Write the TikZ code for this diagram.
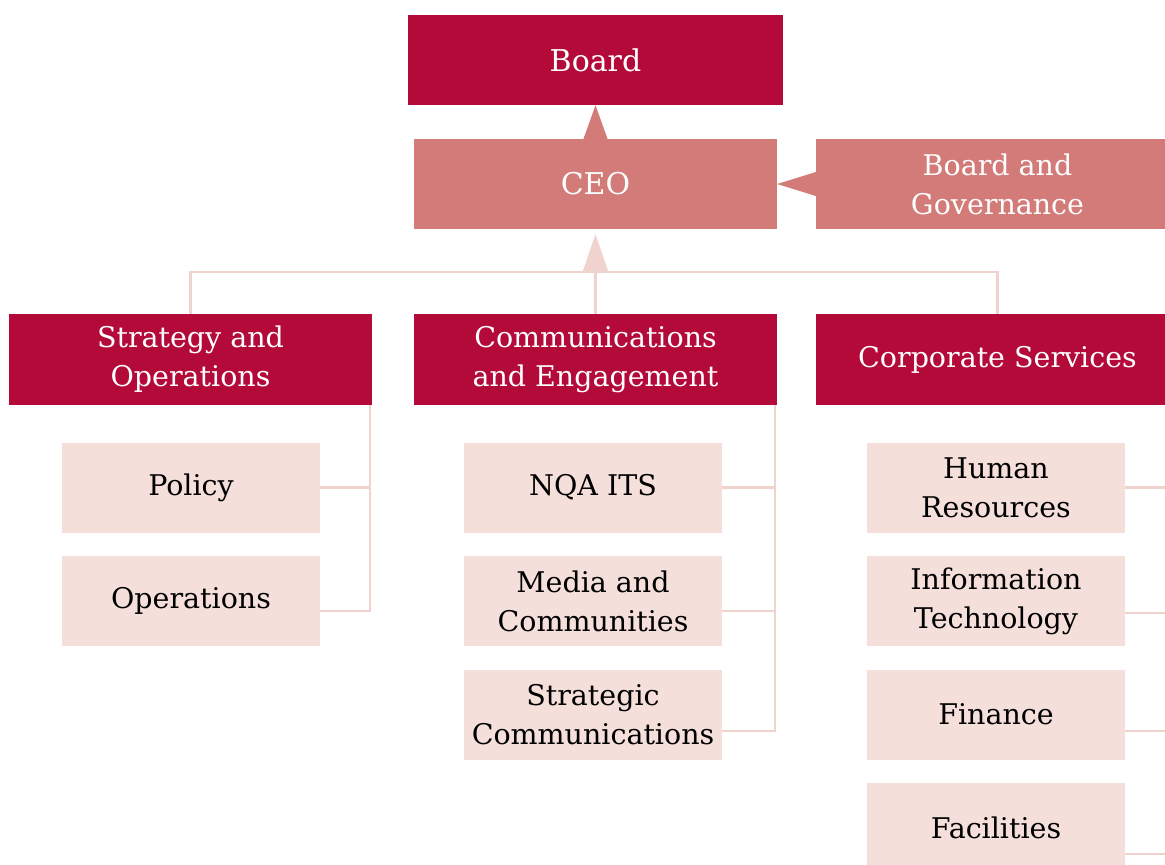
\documentclass[tikz,border=0pt]{standalone}
\usepackage{fontspec}
\setmainfont{DejaVu Serif}
\usetikzlibrary{calc}
\definecolor{crimson}{RGB}{179,10,58}
\definecolor{rose}{RGB}{210,123,120}
\definecolor{pale}{RGB}{245,223,219}
\definecolor{linkc}{RGB}{240,211,207}
\tikzset{
    head/.style={fill=crimson, text=white, minimum width=363pt, minimum height=91pt, inner sep=0pt, align=center},
    chief/.style={fill=rose, text=white, minimum width=363pt, minimum height=90pt, inner sep=0pt, align=center},
    unit/.style={fill=pale, text=black, minimum width=258pt, minimum height=90pt, inner sep=0pt, align=center},
    link/.style={draw=linkc, line width=2.5pt}
}

\begin{document}
\begin{tikzpicture}
  [
    x                       = 1pt,
    y                       = -1pt,
    every node/.style       = {font=\fontsize{28.5}{39}\selectfont},
  ]
  \useasboundingbox (0,0) rectangle (1165,865);
  \clip (0,0) rectangle (1165,865);

  \node [head, minimum width=375pt, minimum height=90pt, font=\fontsize{30}{39}\selectfont] (board) at (595.5,60) {Board};
  \node [chief, font=\fontsize{30}{39}\selectfont] (ceo) at (595.5,184) {CEO};
  \node [chief] (gov) at (997.5,184) {Board and\\Governance};

  \node [head] (strat) at (190.5,359.5) {Strategy and\\Operations};
  \node [head] (comm) at (595.5,359.5) {Communications\\and Engagement};
  \node [head] (corp) at (997.5,359.5) {Corporate Services};

  \node [unit] (policy) at (191,487.5) {Policy};
  \node [unit] (ops) at (191,601) {Operations};

  \node [unit] (nqa) at (593,487.5) {NQA ITS};
  \node [unit] (media) at (593,601) {Media and\\Communities};
  \node [unit] (scomm) at (593,714.5) {Strategic\\Communications};

  \node [unit] (hr) at (996,487.5) {Human\\Resources};
  \node [unit] (it) at (996,601) {Information\\Technology};
  \node [unit] (fin) at (996,714.5) {Finance};
  \node [unit] (fac) at (996,828) {Facilities};

  % arrows into the CEO and the Board
  \fill [rose] ([xshift=-12pt]ceo.north) -- (board.south) -- ([xshift=12pt]ceo.north) -- cycle;
  \fill [rose] ([yshift=12pt]gov.west) -- (ceo.east) -- ([yshift=-12pt]gov.west) -- cycle;

  \coordinate (bus) at (595.5,272);
  \draw [link] (strat.north) |- (bus) -| (corp.north);
  \draw [link] (bus) -- (comm.north);
  \fill [linkc] ([xshift=-13pt]bus) -- ([yshift=-5pt]ceo.south) -- ([xshift=13pt]bus) -- cycle;

  % rails down the right of each group
  \draw [link] ([xshift=-2pt]strat.south east) |- ([yshift=-10pt]ops.east);
  \draw [link] (policy.east) -- (policy.east -| ops.east) -- ++(50,0);
  \draw [link] ([xshift=-2pt]comm.south east) |- ([yshift=-16.5pt]scomm.east);
  \draw [link] (nqa.east) -- ++(53,0);
  \draw [link] ([yshift=-10pt]media.east) -- ++(53,0);
  \draw [link] ([xshift=-2pt]corp.south east) |- ([yshift=-26pt]fac.east);
  \draw [link] (hr.east) -- ++(54,0);
  \draw [link] ([yshift=-12pt]it.east) -- ++(54,0);
  \draw [link] ([yshift=-16.5pt]fin.east) -- ++(54,0);
\end{tikzpicture}
\end{document}
